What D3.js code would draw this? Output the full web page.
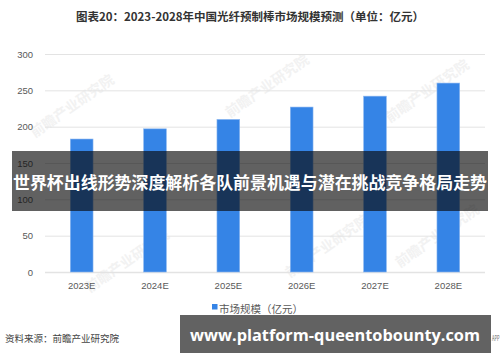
<!DOCTYPE html>
<html>
<head>
<meta charset="utf-8">
<script src="https://cdn.jsdelivr.net/npm/d3@7"></script>
<style>
	body { margin: 0; background: #fff; }
	svg { display: block; font-family: "Noto Sans CJK SC", "Noto Sans", sans-serif; }
</style>
</head>
<body>
<div id="chart"></div>
<script>
(function (){
"use strict";

var years = ["2023E", "2024E", "2025E", "2026E", "2027E", "2028E"];
var marketSize = [183, 197, 210, 227, 242, 260];
var yTicks = [0, 50, 100, 150, 200, 250, 300];
var seriesName = "市场规模（亿元）";
var title = "图表20：2023-2028年中国光纤预制棒市场规模预测（单位：亿元）";
var source = "资料来源：前瞻产业研究院";
var banner = "世界杯出线形势深度解析各队前景机遇与潜在挑战竞争格局走势";
var site = "www.platform-queentobounty.com";

var width = 500,
	height = 362;

var svg = d3.select("#chart").append("svg")
	.attr("width", width)
	.attr("height", height);

// faint watermarks
var marks = [[75, 110], [270, 90], [430, 95], [130, 265], [330, 250], [440, 240]];
svg.append("g").selectAll("text").data(marks)
	.enter().append("text")
		.attr("transform", function(d) { return "translate(" + d[0] + "," + d[1] + ") rotate(-35)"; })
		.attr("text-anchor", "middle")
		.style("font-size", "14px")
		.style("font-weight", "bold")
		.style("fill", "#f2f2f2")
		.text("前瞻产业研究院");

var x = d3.scaleBand()
	.domain(years)
	.range([45, 485])
	.paddingInner(0.69)
	.paddingOuter(0.345);

var y = d3.scaleLinear()
	.domain([0, 300])
	.range([272, 54]);

// title
svg.append("text")
	.attr("x", 250)
	.attr("y", 21)
	.attr("text-anchor", "middle")
	.style("font-size", "11.5px")
	.style("font-weight", "bold")
	.style("fill", "#333")
	.text(title);

// y axis + grid
var yAxis = d3.axisLeft(y)
	.tickValues(yTicks)
	.tickSize(-440)
	.tickPadding(12);

var gy = svg.append("g")
	.attr("transform", "translate(45,0)")
	.call(yAxis);
gy.select(".domain").remove();
gy.selectAll(".tick line")
	.style("stroke", "#e3e3e3")
	.style("stroke-width", function(d) { return d === 0 ? 1.5 : 1; });
gy.selectAll(".tick text")
	.style("font-size", "9.5px")
	.style("fill", "#595959")
	.style("font-family", "Liberation Sans, Arial, sans-serif");

// bars
svg.append("g").selectAll("rect").data(marketSize)
	.enter().append("rect")
		.attr("x", function(d, i) { return x(years[i]); })
		.attr("y", function(d) { return y(d); })
		.attr("width", x.bandwidth())
		.attr("height", function(d) { return y(0) - y(d); })
		.style("fill", "#3584e6")
		.style("stroke", "#8db8f0")
		.style("stroke-width", 0.6);

// x axis
var gx = svg.append("g")
	.attr("transform", "translate(0,272)")
	.call(d3.axisBottom(x).tickSize(0).tickPadding(10));
gx.select(".domain").remove();
gx.selectAll(".tick text")
	.style("font-size", "9.5px")
	.style("fill", "#595959")
	.style("font-family", "Liberation Sans, Arial, sans-serif");

// legend
var lg = svg.append("g").attr("transform", "translate(212,309)");
lg.append("rect")
	.attr("x", 0).attr("y", -5)
	.attr("width", 5.5).attr("height", 5.5)
	.style("fill", "#3584e6");
lg.append("text")
	.attr("x", 7).attr("y", 4)
	.style("font-size", "10.5px")
	.style("fill", "#595959")
	.text(seriesName);

// source
svg.append("text")
	.attr("x", 5)
	.attr("y", 342)
	.style("font-size", "9.5px")
	.style("fill", "#444")
	.text(source);

svg.append("text")
	.attr("x", 492)
	.attr("y", 341)
	.attr("textLength", 7.5)
	.attr("lengthAdjust", "spacingAndGlyphs")
	.style("font-size", "7px")
	.style("fill", "#666")
	.text("APP");

// overlay banner
svg.append("rect")
	.attr("x", 12).attr("y", 151)
	.attr("width", 476).attr("height", 60)
	.style("fill", "rgba(8,8,8,0.64)");
svg.append("text")
	.attr("x", 13).attr("y", 189)
	.attr("textLength", 474)
	.attr("lengthAdjust", "spacingAndGlyphs")
	.style("font-size", "16.5px")
	.style("font-weight", "bold")
	.style("fill", "#fff")
	.text(banner);

// bottom site banner
svg.append("rect")
	.attr("x", 180).attr("y", 315)
	.attr("width", 311).attr("height", 38)
	.style("fill", "#626262");
svg.append("text")
	.attr("x", 190).attr("y", 341)
	.attr("textLength", 290)
	.attr("lengthAdjust", "spacingAndGlyphs")
	.style("font-size", "16.5px")
	.style("font-weight", "bold")
	.style("font-family", "Open Sans, sans-serif")
	.style("fill", "#fff")
	.text(site);

})();
</script>
</body>
</html>
